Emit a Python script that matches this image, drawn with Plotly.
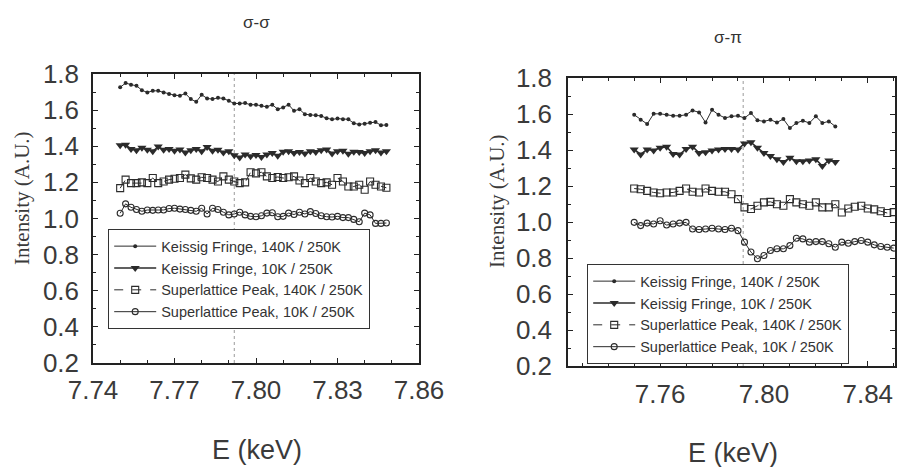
import plotly.graph_objects as go

# ---------------- data ----------------
# sigma-sigma panel (left)
e_ss = [round(7.750 + 0.002 * i, 3) for i in range(50)]
ss_kf_140 = [1.726, 1.750, 1.741, 1.735, 1.710, 1.698, 1.707, 1.707, 1.698, 1.689,
             1.683, 1.680, 1.692, 1.661, 1.646, 1.685, 1.665, 1.661, 1.668, 1.665,
             1.652, 1.637, 1.637, 1.639, 1.630, 1.630, 1.624, 1.618, 1.630, 1.605,
             1.615, 1.630, 1.596, 1.605, 1.577, 1.573, 1.571, 1.568, 1.555, 1.549,
             1.553, 1.549, 1.549, 1.527, 1.521, 1.525, 1.530, 1.534, 1.516, 1.518]
ss_kf_10 = [1.405, 1.408, 1.385, 1.378, 1.392, 1.380, 1.372, 1.398, 1.380, 1.385,
            1.375, 1.382, 1.365, 1.378, 1.385, 1.372, 1.396, 1.375, 1.380, 1.365,
            1.372, 1.350, 1.338, 1.355, 1.345, 1.352, 1.340, 1.355, 1.362, 1.348,
            1.370, 1.372, 1.362, 1.368, 1.360, 1.372, 1.368, 1.378, 1.382, 1.360,
            1.372, 1.375, 1.358, 1.370, 1.368, 1.362, 1.372, 1.378, 1.365, 1.372]
ss_sl_140 = [1.168, 1.215, 1.196, 1.196, 1.200, 1.196, 1.224, 1.196, 1.205, 1.215,
             1.220, 1.224, 1.243, 1.222, 1.215, 1.228, 1.224, 1.215, 1.205, 1.233,
             1.215, 1.205, 1.196, 1.200, 1.256, 1.250, 1.256, 1.233, 1.224, 1.230,
             1.224, 1.228, 1.233, 1.210, 1.196, 1.224, 1.205, 1.196, 1.200, 1.187,
             1.224, 1.205, 1.177, 1.177, 1.187, 1.159, 1.205, 1.187, 1.177, 1.170]
ss_sl_10 = [1.029, 1.081, 1.062, 1.050, 1.040, 1.047, 1.045, 1.047, 1.047, 1.055,
            1.057, 1.052, 1.050, 1.045, 1.040, 1.057, 1.025, 1.057, 1.050, 1.035,
            1.020, 1.025, 1.035, 1.020, 1.012, 1.010, 1.015, 1.030, 1.032, 1.010,
            1.012, 1.030, 1.022, 1.035, 1.025, 1.038, 1.028, 1.015, 1.010, 1.008,
            1.012, 1.005, 1.005, 0.995, 0.982, 1.030, 1.020, 0.973, 0.973, 0.975]

# sigma-pi panel (right)
e_sp_short = [round(7.750 + 0.0025 * i, 4) for i in range(32)]
e_sp_long = [round(7.750 + 0.0025 * i, 4) for i in range(41)]
sp_kf_140 = [1.596, 1.568, 1.544, 1.601, 1.601, 1.596, 1.590, 1.590, 1.596, 1.620,
             1.609, 1.553, 1.623, 1.596, 1.578, 1.587, 1.590, 1.578, 1.605, 1.565,
             1.559, 1.568, 1.553, 1.572, 1.522, 1.550, 1.563, 1.550, 1.587, 1.550,
             1.559, 1.531]
sp_kf_10 = [1.403, 1.375, 1.403, 1.397, 1.412, 1.418, 1.378, 1.375, 1.406, 1.418,
            1.384, 1.388, 1.397, 1.403, 1.406, 1.406, 1.403, 1.436, 1.443, 1.412,
            1.384, 1.366, 1.348, 1.333, 1.357, 1.338, 1.338, 1.342, 1.348, 1.311,
            1.342, 1.333]
sp_sl_140 = [1.186, 1.182, 1.173, 1.164, 1.160, 1.164, 1.164, 1.173, 1.186, 1.168,
             1.164, 1.186, 1.173, 1.168, 1.168, 1.154, 1.127, 1.081, 1.072, 1.090,
             1.109, 1.112, 1.099, 1.090, 1.127, 1.109, 1.099, 1.090, 1.109, 1.081,
             1.081, 1.099, 1.053, 1.075, 1.085, 1.090, 1.075, 1.070, 1.060, 1.050,
             1.055]
sp_sl_10 = [0.998, 0.980, 0.994, 0.989, 1.007, 0.983, 0.989, 0.994, 0.998, 0.961,
            0.958, 0.961, 0.965, 0.961, 0.958, 0.965, 0.952, 0.888, 0.833, 0.796,
            0.814, 0.842, 0.851, 0.851, 0.869, 0.910, 0.906, 0.888, 0.891, 0.891,
            0.879, 0.860, 0.888, 0.882, 0.891, 0.897, 0.888, 0.873, 0.864, 0.860,
            0.855]

series_names = ["Keissig Fringe, 140K / 250K", "Keissig Fringe, 10K / 250K",
                "Superlattice Peak, 140K / 250K", "Superlattice Peak, 10K / 250K"]
panel_titles = ["σ-σ", "σ-π"]
x_title = "E (keV)"
y_title = "Intensity (A.U.)"
y_ticks = [0.2, 0.4, 0.6, 0.8, 1.0, 1.2, 1.4, 1.6, 1.8]
x_ticks_ss = [7.74, 7.77, 7.80, 7.83, 7.86]
x_ticks_sp = [7.76, 7.80, 7.84]
marker_line_e = 7.792

# ---------------- styles ----------------
INK = "#2b2b2b"
styles = [
    dict(marker=dict(symbol="circle", size=4, color=INK), line=dict(color=INK, width=1)),
    dict(marker=dict(symbol="triangle-down", size=8, color=INK), line=dict(color=INK, width=1.6)),
    dict(marker=dict(symbol="square-open", size=7, color=INK, line=dict(width=1.1)),
         line=dict(color=INK, width=1, dash="dash")),
    dict(marker=dict(symbol="circle-open", size=6, color=INK, line=dict(width=1.1)),
         line=dict(color=INK, width=1)),
]

W, H = 899, 467
fig = go.Figure()

ss_data = [(e_ss, ss_kf_140), (e_ss, ss_kf_10), (e_ss, ss_sl_140), (e_ss, ss_sl_10)]
sp_data = [(e_sp_short, sp_kf_140), (e_sp_short, sp_kf_10),
           (e_sp_long, sp_sl_140), (e_sp_long, sp_sl_10)]

for k, (xs, ys) in enumerate(ss_data):
    fig.add_trace(go.Scatter(x=xs, y=ys, mode="lines+markers", name=series_names[k],
                             xaxis="x", yaxis="y", legend="legend", **styles[k]))
for k, (xs, ys) in enumerate(sp_data):
    fig.add_trace(go.Scatter(x=xs, y=ys, mode="lines+markers", name=series_names[k],
                             xaxis="x2", yaxis="y2", legend="legend2", **styles[k]))

def px_x(p):
    return p / W

def px_y(p):
    return 1 - p / H

tickfont = dict(family="Liberation Sans, Arial, sans-serif", size=26, color="#3a3a3a")
axis_common = dict(showgrid=False, zeroline=False, showline=True, linecolor="#222",
                   linewidth=1.5, mirror="allticks", ticks="inside", ticklen=5,
                   tickcolor="#222", tickfont=tickfont)

legend_font = dict(family="Liberation Sans, Arial, sans-serif", size=14.5, color="#333")

fig.update_layout(
    width=W, height=H,
    margin=dict(l=0, r=0, t=0, b=0, autoexpand=False),
    paper_bgcolor="white", plot_bgcolor="white",
    xaxis=dict(domain=[px_x(93), px_x(419)], range=[7.74, 7.86], tickvals=x_ticks_ss,
               ticktext=[f"{v:.2f}" for v in x_ticks_ss], anchor="y",
               minor=dict(dtick=0.01, tick0=7.74, ticks="inside", ticklen=3, tickcolor="#222"),
               ticklabelstandoff=3, **axis_common),
    yaxis=dict(domain=[px_y(363), px_y(74)], range=[0.2, 1.8], tickvals=y_ticks,
               ticktext=[f"{v:.1f}" for v in y_ticks], anchor="x",
               minor=dict(dtick=0.1, tick0=0.2, ticks="inside", ticklen=3, tickcolor="#222"),
               ticklabelstandoff=7, **axis_common),
    xaxis2=dict(domain=[px_x(568), px_x(895)], range=[7.7245, 7.8505], tickvals=x_ticks_sp,
                ticktext=[f"{v:.2f}" for v in x_ticks_sp], anchor="y2",
                minor=dict(dtick=0.01, tick0=7.72, ticks="inside", ticklen=3, tickcolor="#222"),
                ticklabelstandoff=4, **axis_common),
    yaxis2=dict(domain=[px_y(366), px_y(78)], range=[0.2, 1.8], tickvals=y_ticks,
                ticktext=[f"{v:.1f}" for v in y_ticks], anchor="x2",
                minor=dict(dtick=0.1, tick0=0.2, ticks="inside", ticklen=3, tickcolor="#222"),
                ticklabelstandoff=9, **axis_common),
    legend=dict(x=px_x(108), y=px_y(279), xanchor="left", yanchor="middle",
                bgcolor="white", bordercolor="#333", borderwidth=1.2,
                font=legend_font, itemwidth=42, tracegroupgap=0,
                entrywidth=255, entrywidthmode="pixels"),
    legend2=dict(x=px_x(587), y=px_y(364), xanchor="left", yanchor="bottom",
                 bgcolor="white", bordercolor="#333", borderwidth=1.2,
                 font=legend_font, itemwidth=42, tracegroupgap=0,
                 entrywidth=252, entrywidthmode="pixels"),
    showlegend=True,
)

# dotted reference line at the same energy in both panels
for xr, yr in (("x", "y"), ("x2", "y2")):
    fig.add_shape(type="line", xref=xr, yref=f"{yr} domain", x0=marker_line_e, x1=marker_line_e,
                  y0=0, y1=1, line=dict(color="#9a9a9a", width=1, dash="dot"), layer="below")

title_font = dict(family="Liberation Sans, Arial, sans-serif", size=17, color="#333")
label_font = dict(family="Liberation Sans, Arial, sans-serif", size=27, color="#3a3a3a")
ytitle_font = dict(family="Liberation Serif, Times New Roman, serif", size=21, color="#3a3a3a")

ann = [
    dict(text=panel_titles[0], x=px_x(256), y=px_y(22), font=title_font),
    dict(text=panel_titles[1], x=px_x(728), y=px_y(38), font=title_font),
    dict(text=x_title, x=px_x(257), y=px_y(450), font=label_font),
    dict(text=x_title, x=px_x(733), y=px_y(453), font=label_font),
    dict(text=y_title, x=px_x(22), y=px_y(198), font=ytitle_font, textangle=-90),
    dict(text=y_title, x=px_x(497), y=px_y(201), font=ytitle_font, textangle=-90),
]
for a in ann:
    fig.add_annotation(xref="paper", yref="paper", showarrow=False,
                       xanchor="center", yanchor="middle", **a)

fig.write_html("out.html", config={"displayModeBar": False},
               post_script="document.body.style.margin='0px';document.body.style.overflow='hidden';")
